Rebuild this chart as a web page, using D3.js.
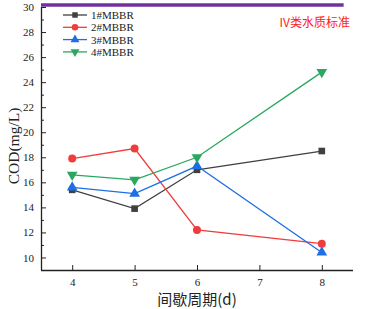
<!DOCTYPE html>
<html><head><meta charset="utf-8">
<script src="https://cdn.jsdelivr.net/npm/d3@7"></script>
<style>body{margin:0;background:#fff}svg{display:block}</style>
</head><body>
<svg id="c" width="373" height="309"></svg>
<script>
const days = [4, 5, 6, 8];
const seriesNames = ["1#MBBR", "2#MBBR", "3#MBBR", "4#MBBR"];
const s1 = [15.4, 13.9, 17.0, 18.5];
const s2 = [17.9, 18.7, 12.2, 11.1];
const s3 = [15.6, 15.1, 17.3, 10.4];
const s4 = [16.6, 16.2, 18.0, 24.8];
const standardValue = 30;
const standardLabel = "IV类水质标准";
const xTicks = [4, 5, 6, 7, 8];
const yTicks = [10, 12, 14, 16, 18, 20, 22, 24, 26, 28, 30];
const colors = ["#404040", "#f03c3c", "#1e6ee6", "#2aa860"];
const symbols = [d3.symbolSquare, d3.symbolCircle, d3.symbolTriangle, d3.symbolTriangle];

const svg = d3.select("#c");
const L = 41, R = 353, T = 7, B = 270;
const x = d3.scaleLinear().domain([3.5, 8.5]).range([L, R]);
const y = d3.scaleLinear().domain([9, 30]).range([B, T]);
const serif = "'Liberation Serif','DejaVu Serif',serif";

// axes
const xAxis = d3.axisBottom(x).tickValues(xTicks).tickSize(-5).tickPadding(6).tickFormat(d3.format("d"));
const gx = svg.append("g").attr("transform", `translate(0,${B})`).call(xAxis);
const yAxis = d3.axisLeft(y).tickValues(yTicks).tickSize(-5).tickPadding(7).tickFormat(d3.format("d"));
const gy = svg.append("g").attr("transform", `translate(${L},0)`).call(yAxis);
const yMinor = d3.axisLeft(y).tickValues(d3.range(9, 30, 2)).tickSize(-3).tickFormat("");
svg.append("g").attr("transform", `translate(${L},0)`).call(yMinor).select(".domain").remove();
[gx, gy].forEach(g => {
  g.select(".domain").attr("stroke", "#222").attr("stroke-width", 1.3);
  g.selectAll("text").attr("font-family", serif).attr("font-size", 11).attr("fill", "#222");
});
gx.select(".domain").attr("d", `M${L},0.5H${R}`);
gy.select(".domain").attr("d", `M0.5,${B}V${T}`);
gx.selectAll(".tick text").attr("dy", "0.9em");
svg.selectAll(".tick line").attr("stroke", "#222");

// standard line
svg.append("line").attr("x1", L).attr("x2", x(8.35)).attr("y1", y(standardValue) - 2).attr("y2", y(standardValue) - 2)
  .attr("stroke", "#7030a0").attr("stroke-width", 3.5);
svg.append("text").attr("x", 350).attr("y", 27).attr("text-anchor", "end")
  .attr("font-family", "'Noto Sans CJK SC', serif").attr("font-size", 12).attr("fill", "#ff1a1a").text(standardLabel);

// series
const all = [s1, s2, s3, s4];
const line = d3.line().x((d, i) => x(days[i])).y(d => y(d));
all.forEach((s, k) => {
  svg.append("path").datum(s).attr("d", line).attr("fill", "none").attr("stroke", colors[k]).attr("stroke-width", 1.3);
  const sym = d3.symbol().type(symbols[k]).size(k === 0 ? 44 : 50);
  svg.selectAll(null).data(s).join("path")
    .attr("d", sym)
    .attr("transform", (d, i) => `translate(${x(days[i])},${y(d)})` + (k === 3 ? " rotate(180)" : ""))
    .attr("fill", colors[k]);
});

// legend
const lg = svg.append("g");
seriesNames.forEach((n, k) => {
  const yy = 15 + k * 12.3;
  lg.append("line").attr("x1", 63).attr("x2", 87).attr("y1", yy).attr("y2", yy).attr("stroke", colors[k]).attr("stroke-width", 1.3);
  lg.append("path").attr("d", d3.symbol().type(symbols[k]).size(k === 0 ? 30 : 34))
    .attr("transform", `translate(75,${yy})` + (k === 3 ? " rotate(180)" : "")).attr("fill", colors[k]);
  lg.append("text").attr("x", 91).attr("y", yy + 4).attr("font-family", serif).attr("font-size", 11).attr("fill", "#222").text(n);
});

// axis titles
svg.append("text").attr("x", 197).attr("y", 305).attr("text-anchor", "middle")
  .attr("font-family", "'Noto Sans CJK SC', serif").attr("font-size", 15).attr("fill", "#222").text("间歇周期(d)");
svg.append("text").attr("transform", "translate(19,146) rotate(-90)").attr("text-anchor", "middle")
  .attr("font-family", serif).attr("font-size", 15.5).attr("fill", "#222").text("COD(mg/L)");
</script>
</body></html>
